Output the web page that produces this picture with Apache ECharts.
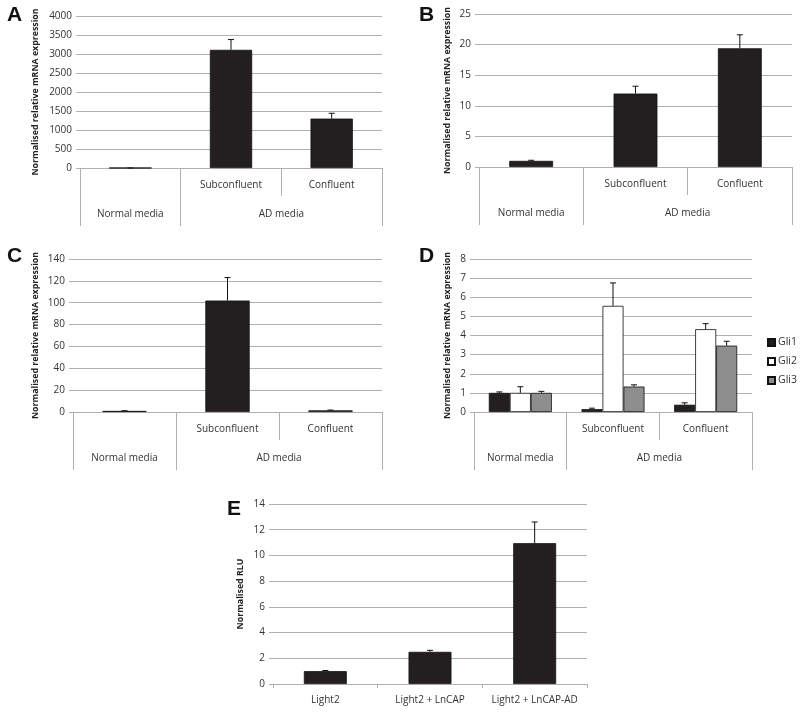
<!DOCTYPE html>
<html><head><meta charset="utf-8">
<script src="https://cdn.jsdelivr.net/npm/echarts@6/dist/echarts.min.js"></script>
<style>html,body{margin:0;padding:0;background:#fff}#c{width:800px;height:714px}</style>
</head><body><div id="c"></div>
<script>
// ---- data ----
const subLabels = ['', 'Subconfluent', 'Confluent'];
const groupLabels = ['Normal media', 'AD media'];
const groupSpans = [1, 2];

const aValues = [1, 3110, 1300];
const aErrTop = [1, 3380, 1440];
const aTicks = [0, 4000, 500];

const bValues = [1.0, 12.0, 19.4];
const bErrTop = [1.1, 13.2, 21.6];
const bTicks = [0, 25, 5];

const cValues = [1.0, 102, 1.5];
const cErrTop = [1.2, 123, 1.8];
const cTicks = [0, 140, 20];

const dSeriesNames = ['Gli1', 'Gli2', 'Gli3'];
const dGli1 = [1.0, 0.15, 0.38];
const dGli1Err = [1.05, 0.2, 0.48];
const dGli2 = [1.0, 5.55, 4.33];
const dGli2Err = [1.32, 6.75, 4.62];
const dGli3 = [1.0, 1.33, 3.47];
const dGli3Err = [1.08, 1.42, 3.7];
const dTicks = [0, 8, 1];

const eCategories = ['Light2', 'Light2 + LnCAP', 'Light2 + LnCAP-AD'];
const eValues = [1.0, 2.5, 10.95];
const eErrTop = [1.05, 2.62, 12.6];
const eTicks = [0, 14, 2];

const yName = 'Normalised relative mRNA expression';
const eYName = 'Normalised RLU';
const panelLetters = ['A', 'B', 'C', 'D', 'E'];

// ---- styles ----
const FONT = 'Open Sans';
const GRID_C = '#b0b0b0';
const TXT = '#333';
const BAR_C = '#231f20';

const grids = [
  {left: 80, width: 302, top: 16, height: 152},
  {left: 479, width: 313, top: 14, height: 153},
  {left: 73, width: 309, top: 259, height: 153},
  {left: 474, width: 278, top: 259, height: 153},
  {left: 273, width: 314, top: 504, height: 180}
];
const letterPos = [[7, 5], [419, 5], [7, 246], [419, 246], [227, 499]];

// group-axis helpers
const groupCenters = {};
const groupBounds = [0];
(function(){ let s = 0; groupSpans.forEach((sp, i) => { groupCenters[s + sp / 2] = groupLabels[i]; s += sp; groupBounds.push(s); }); })();

const xAxes = [], yAxes = [];
function levelAxes(gi) {
  xAxes.push({
    type: 'category', gridIndex: gi, data: subLabels, position: 'bottom',
    axisLine: {show: true, lineStyle: {color: GRID_C, width: 1}},
    axisTick: {show: true, length: 28, lineStyle: {color: GRID_C}},
    axisLabel: {color: TXT, fontFamily: FONT, fontSize: 10, margin: 12, interval: 0}
  });
  xAxes.push({
    type: 'value', gridIndex: gi, position: 'bottom', offset: 28, min: 0, max: subLabels.length,
    axisLine: {show: false}, splitLine: {show: false},
    axisTick: {show: true, length: 30, customValues: groupBounds, lineStyle: {color: GRID_C}},
    axisLabel: {color: TXT, fontFamily: FONT, fontSize: 10, margin: 13,
      customValues: Object.keys(groupCenters).map(Number),
      formatter: v => groupCenters[v] || ''}
  });
}
function yAx(gi, ticks, name, gap) {
  yAxes.push({
    type: 'value', gridIndex: gi, min: ticks[0], max: ticks[1], interval: ticks[2],
    name: name, nameLocation: 'middle', nameRotate: 90, nameGap: gap,
    nameTextStyle: {fontFamily: FONT, fontWeight: 'bold', fontSize: 8.8, color: '#222'},
    axisLine: {show: false},
    axisTick: {show: true, length: 4, lineStyle: {color: GRID_C}},
    splitLine: {lineStyle: {color: GRID_C, width: 1}},
    axisLabel: {color: TXT, fontFamily: FONT, fontSize: 10, margin: 8, formatter: v => String(v)}
  });
}
for (let g = 0; g < 4; g++) levelAxes(g);
xAxes.push({
  type: 'category', gridIndex: 4, data: eCategories,
  axisLine: {show: true, lineStyle: {color: GRID_C}},
  axisTick: {show: true, length: 4, lineStyle: {color: GRID_C}},
  axisLabel: {color: TXT, fontFamily: FONT, fontSize: 10, margin: 11, interval: 0}
});
yAx(0, aTicks, yName, 40);
yAx(1, bTicks, yName, 27);
yAx(2, cTicks, yName, 33);
yAx(3, dTicks, yName, 22);
yAx(4, eTicks, eYName, 28);

function errSeries(xi, yi, vals, tops, barFrac, k) {
  return {
    type: 'custom', xAxisIndex: xi, yAxisIndex: yi, silent: true, z: 3,
    data: vals.map((v, i) => [i, v, tops[i]]),
    renderItem: function (params, api) {
      const x = api.value(0);
      const p0 = api.coord([x, api.value(1)]);
      const p1 = api.coord([x, api.value(2)]);
      const bw = api.size([1, 0])[0] * barFrac;
      const cx = p0[0] + k * bw;
      const st = {stroke: '#111', lineWidth: 1};
      return {type: 'group', children: [
        {type: 'line', shape: {x1: cx, y1: p0[1], x2: cx, y2: p1[1]}, style: st},
        {type: 'line', shape: {x1: cx - 3, y1: p1[1], x2: cx + 3, y2: p1[1]}, style: st}
      ]};
    }
  };
}
function barSeries(xi, yi, vals, name, color, extra) {
  return Object.assign({
    type: 'bar', name: name, xAxisIndex: xi, yAxisIndex: yi, data: vals, z: 2,
    itemStyle: {color: color, borderColor: '#111', borderWidth: 0.8}
  }, extra || {});
}

const series = [
  barSeries(0, 0, aValues, 'A', BAR_C, {barWidth: '42%'}), errSeries(0, 0, aValues, aErrTop, 0, 0),
  barSeries(2, 1, bValues, 'B', BAR_C, {barWidth: '42%'}), errSeries(2, 1, bValues, bErrTop, 0, 0),
  barSeries(4, 2, cValues, 'C', BAR_C, {barWidth: '43%'}), errSeries(4, 2, cValues, cErrTop, 0, 0),
  barSeries(6, 3, dGli1, dSeriesNames[0], BAR_C, {barGap: '0%', barCategoryGap: '32%'}),
  barSeries(6, 3, dGli2, dSeriesNames[1], '#ffffff', {barGap: '0%', barCategoryGap: '32%'}),
  barSeries(6, 3, dGli3, dSeriesNames[2], '#8e8e8e', {barGap: '0%', barCategoryGap: '32%'}),
  errSeries(6, 3, dGli1, dGli1Err, 0.68 / 3, -1),
  errSeries(6, 3, dGli2, dGli2Err, 0.68 / 3, 0),
  errSeries(6, 3, dGli3, dGli3Err, 0.68 / 3, 1),
  barSeries(8, 4, eValues, 'E', BAR_C, {barWidth: '41%'}), errSeries(8, 4, eValues, eErrTop, 0, 0)
];

const option = {
  animation: false,
  backgroundColor: '#fff',
  title: panelLetters.map((t, i) => ({
    text: t, left: letterPos[i][0], top: letterPos[i][1], padding: 0,
    textStyle: {fontFamily: 'Liberation Sans', fontWeight: 'bold', fontSize: 21, color: '#111'}
  })),
  legend: {
    data: dSeriesNames, orient: 'vertical', left: 767, top: 337, itemGap: 8,
    icon: 'rect', itemWidth: 7, itemHeight: 7, padding: 0,
    textStyle: {fontFamily: FONT, fontSize: 10.5, color: TXT, padding: [0, 0, 0, -2]}
  },
  grid: grids,
  xAxis: xAxes,
  yAxis: yAxes,
  series: series
};
const chart = echarts.init(document.getElementById('c'), null, {renderer: 'canvas'});
chart.setOption(option);
</script></body></html>
